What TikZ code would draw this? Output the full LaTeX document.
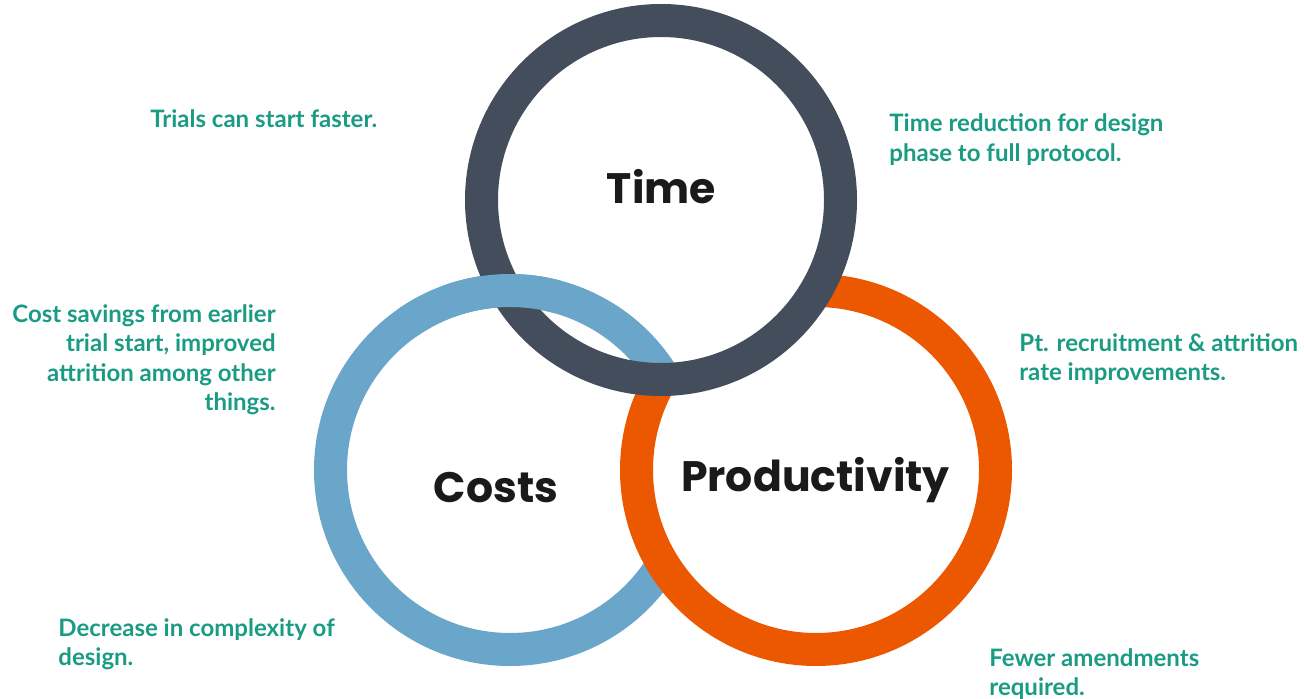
\documentclass[tikz,border=0pt]{standalone}
\usepackage{fontspec}
\setmainfont{Lato}
\newfontfamily\titlefont{Poppins}
\definecolor{timegray}{HTML}{434D5B}
\definecolor{costblue}{HTML}{6AA5CA}
\definecolor{prodorange}{HTML}{EB5800}
\definecolor{noteteal}{HTML}{1A9B83}
\definecolor{titleblack}{HTML}{1A1A1A}
\tikzset{
  ring/.style = {line width=16.5pt},
  ringtitle/.style = {anchor=base, inner sep=0pt, color=titleblack,
    font=\titlefont\bfseries\fontsize{21.3}{25}\selectfont},
  note/.style = {inner sep=0pt, color=noteteal,
    font=\bfseries\fontsize{12}{14.75}\selectfont},
}
\begin{document}
\begin{tikzpicture}[x=0.5pt, y=0.5pt, line cap=butt]
\useasboundingbox (0,0) rectangle (1304,698);
% ring centres
\coordinate (T) at (661,498);
\coordinate (C) at (510,228);
\coordinate (P) at (816,228);

% rings: costs, productivity (white inside), time (white inside)
\draw[ring, color=costblue] (C) circle [radius=179.5];
\draw[ring, color=prodorange, fill=white] (P) circle [radius=179.5];
\fill[white] (T) circle [radius=179.5];
% costs ring runs through the time circle
\draw[ring, color=costblue] ([shift={(32:179.5)}]C) arc [start angle=32, end angle=125, radius=179.5];
\draw[ring, color=timegray] (T) circle [radius=179.5];
% costs ring passes over time ring on the left
\draw[ring, color=costblue] ([shift={(75:179.5)}]C) arc [start angle=75, end angle=110, radius=179.5];

% ring titles
\node[ringtitle] (timetitle) at (661.5,495) {Time};
\node[ringtitle] (coststitle) at (496,196) {Costs};
\node[ringtitle] (prodtitle) at (815.5,207) {Productivity};

% notes (base = last line)
\node[note, anchor=base west] (trials) at (150,571) {Trials can start faster.};
\node[note, anchor=base west, align=left] (timenote) at (889,537) {Time reduction for design\\phase to full protocol.};
\node[note, anchor=base east, align=right] (costnote) at (276,287.5) {Cost savings from earlier\\trial start, improved\\attrition among other\\things.};
\node[note, anchor=base west, align=left] (recruit) at (1019,317.5) {Pt. recruitment \& attrition\\rate improvements.};
\node[note, anchor=base west, align=left] (design) at (58,32.5) {Decrease in complexity of\\design.};
\node[note, anchor=base west, align=left] (amend) at (989,2.5) {Fewer amendments\\required.};

\end{tikzpicture}
\end{document}
